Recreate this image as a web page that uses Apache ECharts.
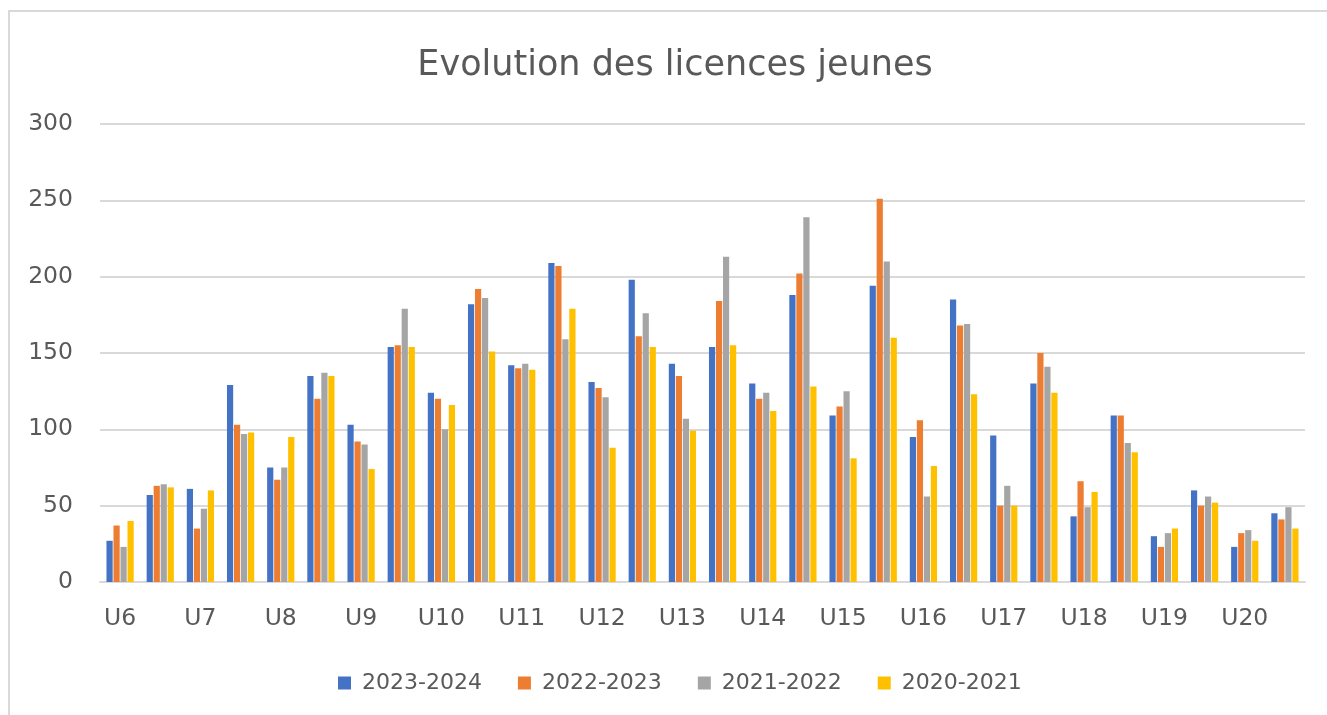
<!DOCTYPE html>
<html>
<head>
<meta charset="utf-8">
<title>Evolution des licences jeunes</title>
<script src="https://cdn.jsdelivr.net/npm/echarts@6/dist/echarts.min.js"></script>
<style>
  html, body { margin: 0; padding: 0; background: #fff; }
  .frame {
    position: absolute;
    left: 8px;
    top: 10px;
    width: 1330px;
    height: 720px;
    border-left: 2px solid #d9d9d9;
    border-top: 2px solid #d9d9d9;
  }
  #chart { position: absolute; left: 0; top: 0; width: 1327px; height: 715px; }
</style>
</head>
<body>
<div class="frame"></div>
<div id="chart"></div>
<script>
// tranches d'age (une etiquette sur deux categories)
const tickLabels = ['U6', 'U7', 'U8', 'U9', 'U10', 'U11', 'U12', 'U13', 'U14', 'U15', 'U16', 'U17', 'U18', 'U19', 'U20']
const categories = [
  'U6-1', 'U6-2', 'U7-1', 'U7-2', 'U8-1', 'U8-2', 'U9-1', 'U9-2', 'U10-1', 'U10-2',
  'U11-1', 'U11-2', 'U12-1', 'U12-2', 'U13-1', 'U13-2', 'U14-1', 'U14-2', 'U15-1', 'U15-2',
  'U16-1', 'U16-2', 'U17-1', 'U17-2', 'U18-1', 'U18-2', 'U19-1', 'U19-2', 'U20-1', 'U20-2'
]
const seasons = ['2023-2024', '2022-2023', '2021-2022', '2020-2021']
const colors = ['#4472C4', '#ED7D31', '#A5A5A5', '#FFC000']

const s2023_2024 = [27, 57, 61, 129, 75, 135, 103, 154, 124, 182, 142, 209, 131, 198, 143, 154, 130, 188, 109, 194, 95, 185, 96, 130, 43, 109, 30, 60, 23, 45]
const s2022_2023 = [37, 63, 35, 103, 67, 120, 92, 155, 120, 192, 140, 207, 127, 161, 135, 184, 120, 202, 115, 251, 106, 168, 50, 150, 66, 109, 23, 50, 32, 41]
const s2021_2022 = [23, 64, 48, 97, 75, 137, 90, 179, 100, 186, 143, 159, 121, 176, 107, 213, 124, 239, 125, 210, 56, 169, 63, 141, 49, 91, 32, 56, 34, 49]
const s2020_2021 = [40, 62, 60, 98, 95, 135, 74, 154, 116, 151, 139, 179, 88, 154, 99, 155, 112, 128, 81, 160, 76, 123, 50, 124, 59, 85, 35, 52, 27, 35]

const yTicks = [0, 50, 100, 150, 200, 250, 300]

const seriesData = [s2023_2024, s2022_2023, s2021_2022, s2020_2021]
const textColor = '#595959'
const font = 'DejaVu Sans'

const myChart = echarts.init(document.getElementById('chart'))

const options = {
  animation: false,
  color: colors,
  graphic: [
    {
      type: 'text',
      x: 675,
      y: 66,
      style: {
        text: 'Evolution des licences jeunes',
        fill: textColor,
        font: '35px "DejaVu Sans"',
        textAlign: 'center',
        textVerticalAlign: 'middle'
      }
    }
  ],
  grid: {
    left: 100,
    right: 22,
    top: 124,
    bottom: 133,
    containLabel: false,
    outerBoundsMode: 'none'
  },
  legend: {
    data: seasons,
    left: 333,
    top: 667,
    itemWidth: 13,
    itemHeight: 13,
    itemGap: 36,
    icon: 'rect',
    textStyle: { color: textColor, fontFamily: font, fontSize: 22, padding: [0, 0, 0, 6] }
  },
  xAxis: {
    type: 'category',
    data: categories,
    axisLine: { lineStyle: { color: '#d9d9d9', width: 2 } },
    axisTick: { show: false },
    axisLabel: {
      interval: 1,
      color: textColor,
      fontFamily: font,
      fontSize: 23.5,
      margin: 25,
      formatter: (value, idx) => tickLabels[Math.floor(idx / 2)]
    }
  },
  yAxis: {
    type: 'value',
    min: yTicks[0],
    max: yTicks[yTicks.length - 1],
    interval: 50,
    axisLine: { show: false },
    axisTick: { show: false },
    splitLine: { lineStyle: { color: '#d9d9d9', width: 2 } },
    axisLabel: { color: textColor, fontFamily: font, fontSize: 23.5, margin: 27 }
  },
  series: seasons.map((name, i) => ({
    name: name,
    type: 'bar',
    barWidth: 6.2,
    barGap: '13%',
    itemStyle: { color: colors[i] },
    data: seriesData[i]
  }))
}

myChart.setOption(options)

window.addEventListener('resize', () => {
  myChart.resize()
})
</script>
</body>
</html>
